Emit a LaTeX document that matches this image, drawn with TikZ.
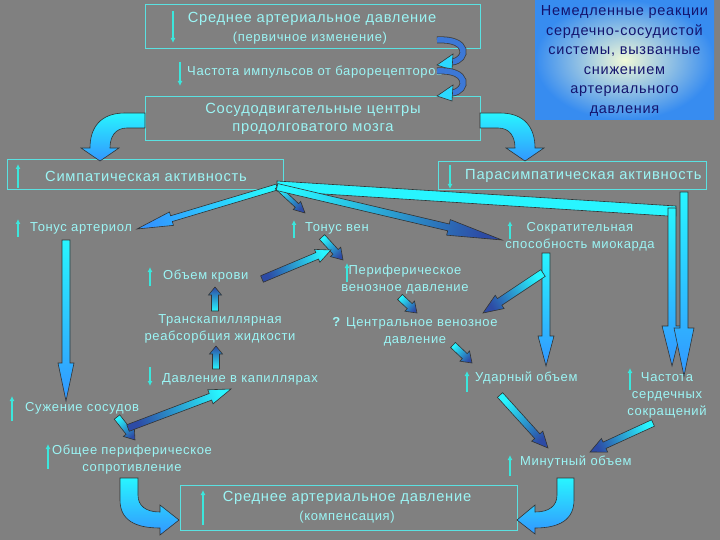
\documentclass[tikz,border=0pt]{standalone}
\usepackage{fontspec}
\setmainfont{Liberation Sans}[LetterSpace=5]
\usetikzlibrary{calc,arrows.meta}
\definecolor{bg}{RGB}{128,128,128}
\definecolor{txt}{RGB}{155,245,245}
\definecolor{brd}{RGB}{90,225,225}
\definecolor{ind}{RGB}{60,230,220}
\definecolor{cy}{RGB}{40,245,255}
\definecolor{bl}{RGB}{50,150,255}
\definecolor{db}{RGB}{45,75,165}
\definecolor{navy}{RGB}{20,20,110}
\definecolor{pale}{RGB}{240,248,215}
\definecolor{boxbl}{RGB}{55,140,240}
\definecolor{curl}{RGB}{60,120,215}

\tikzset{
  lbl/.style={text=txt, inner sep=0pt, align=center},
  t14/.style={lbl, font=\fontsize{14.7}{19}\selectfont},
  t12/.style={lbl, font=\fontsize{13}{17}\selectfont},
  frame/.style={draw=brd, line width=1pt, inner sep=0pt},
  indic/.style={draw=ind, line width=1.6pt, -{Latex[length=5pt,width=5pt]}},
  outl/.style={draw=black!80, line width=0.6pt},
}

% block arrow: tail, tip, shaft half width, head half width, head length, tail colour, head colour
\newcommand\blk[7]{%
  \pgfmathanglebetweenpoints{\pgfpointanchor{#1}{center}}{\pgfpointanchor{#2}{center}}%
  \edef\bang{\pgfmathresult}%
  \draw[outl, bottom color=#6, top color=#7, shading angle=\bang-90]
    ($(#1)+(\bang+90:#3)$) -- ($(#2)+(\bang+180:#5)+(\bang+90:#3)$)
    -- ($(#2)+(\bang+180:#5)+(\bang+90:#4)$) -- (#2)
    -- ($(#2)+(\bang+180:#5)+(\bang-90:#4)$) -- ($(#2)+(\bang+180:#5)+(\bang-90:#3)$)
    -- ($(#1)+(\bang-90:#3)$) -- cycle;
}

\begin{document}
\begin{tikzpicture}[x=1pt,y=-1pt]
\fill[bg] (0,0) rectangle (720,540);
\useasboundingbox (0,0) rectangle (720,540);

% ---------- boxes ----------
\node[frame, minimum width=335pt, minimum height=44pt] (mapA) at (312.5,27) {};
\node[frame, minimum width=335pt, minimum height=44pt] (vmc) at (312.5,119) {};
\node[frame, minimum width=276pt, minimum height=30pt] (sym) at (145,175) {};
\node[frame, minimum width=268pt, minimum height=28pt] (psym) at (572,176) {};
\node[frame, minimum width=337pt, minimum height=45pt] (mapB) at (348.5,507.5) {};

% gradient info box
\node[inner sep=0pt, minimum width=179pt, minimum height=120pt, inner color=pale, outer color=boxbl] (imm) at (624.5,60) {};
\node[inner sep=0pt, align=center, text=navy, font=\fontsize{14.5}{19.5}\selectfont] (immt) at (624.5,61)
  {Немедленные реакции\\сердечно-сосудистой\\системы, вызванные\\снижением\\артериального\\давления};

% ---------- texts ----------
\node[t14] (tA1) at (312,19) {Среднее артериальное давление};
\node[t12] (tA2) at (310,38) {(первичное изменение)};
\node[t12, anchor=west] (baro) at (187,72) {Частота импульсов от барорецепторов};
\node[t14] (vmc1) at (313,110) {Сосудодвигательные центры};
\node[t14] (vmc2) at (313,129) {продолговатого мозга};
\node[t14, anchor=west] (symt) at (45,176) {Симпатическая активность};
\node[t14, anchor=west] (psymt) at (465,176) {Парасимпатическая активность};
\node[t12, anchor=west] (ta) at (30,228) {Тонус артериол};
\node[t12, anchor=west] (tv) at (305,228) {Тонус вен};
\node[t12] (sk) at (580,236.5) {Сократительная\\способность миокарда};
\node[t12, anchor=west] (ok) at (163,276) {Объем крови};
\node[t12] (tr) at (220,328.5) {Транскапиллярная\\реабсорбция жидкости};
\node[t12] (pv) at (405,280) {Периферическое\\венозное давление};
\node[t12] (cv) at (415,331.5) {{\bfseries ?} Центральное венозное\\давление};
\node[t12, anchor=west] (dk) at (162,379) {Давление в капиллярах};
\node[t12, anchor=west] (uo) at (475,378) {Ударный объем};
\node[t12] (cs) at (667,395) {Частота\\сердечных\\сокращений};
\node[t12, anchor=west] (sz) at (25,408) {Сужение сосудов};
\node[t12] (op) at (132,460) {Общее периферическое\\сопротивление};
\node[t12, anchor=west] (mo) at (520,462) {Минутный объем};
\node[t14] (tB1) at (347,498) {Среднее артериальное давление};
\node[t12] (tB2) at (347,517) {(компенсация)};

% ---------- indicator arrows ----------
\draw[indic] (173,11) -- (173,43);
\draw[indic] (180,62) -- (180,86);
\draw[indic] (18,188) -- (18,164);
\draw[indic] (450,165) -- (450,189);
\draw[indic] (18,237) -- (18,219);
\draw[indic] (294,238) -- (294,220);
\draw[indic] (510,239) -- (510,221);
\draw[indic] (150,286) -- (150,267);
\draw[indic] (150,367) -- (150,386);
\draw[indic] (347,282) -- (347,263);
\draw[indic] (467,392) -- (467,371);
\draw[indic] (630,390) -- (630,368);
\draw[indic] (12,421) -- (12,396);
\draw[indic] (48,469) -- (48,444);
\draw[indic] (510,476) -- (510,455);
\draw[indic] (203,525) -- (203,490);

% ---------- curly arrows ----------
\draw[line width=7pt, black!75] (437,40) .. controls (470,38) and (468,60) .. (452,62);
\draw[line width=5.4pt, curl] (437,40) .. controls (470,38) and (468,60) .. (452,62);
\draw[outl, fill=cy!70!bl] (453,54) -- (452,70) -- (437,65) -- cycle;
\draw[line width=7pt, black!75] (437,71) .. controls (470,69) and (468,91) .. (452,93);
\draw[line width=5.4pt, curl] (437,71) .. controls (470,69) and (468,91) .. (452,93);
\draw[outl, fill=cy!70!bl] (453,85) -- (452,101) -- (437,96) -- cycle;

% ---------- big curved arrows ----------
\draw[outl, top color=cy, bottom color=bl]
  (145,113) -- (125,113) .. controls (100,113) and (90,128) .. (90,148) -- (81,148) -- (100,161)
  -- (119,148) -- (110,148) .. controls (110,137) and (115,128) .. (127,128) -- (145,128) -- cycle;
\draw[outl, top color=cy, bottom color=bl]
  (480,113) -- (500,113) .. controls (525,113) and (535,128) .. (535,148) -- (544,148) -- (525,161)
  -- (506,148) -- (515,148) .. controls (515,137) and (510,128) .. (498,128) -- (480,128) -- cycle;
\draw[outl, top color=cy, bottom color=bl]
  (120,478) -- (120,500) .. controls (120,520) and (135,528) .. (160,528) -- (160,535) -- (179,520)
  -- (160,505) -- (160,512) .. controls (146,512) and (138,506) .. (138,495) -- (138,478) -- cycle;
\draw[outl, top color=cy, bottom color=bl]
  (574,478) -- (574,500) .. controls (574,520) and (559,528) .. (535,528) -- (535,534) -- (517,520)
  -- (535,505) -- (535,512) .. controls (549,512) and (557,506) .. (557,495) -- (557,478) -- cycle;

% ---------- straight block arrows ----------
\coordinate (s0) at (277,187);
\coordinate (aTA) at (137,229);
\coordinate (aTV) at (305,213);
\coordinate (aSK) at (502,240);
\coordinate (hrT1) at (672,208);  \coordinate (hrH1) at (672,366);
\coordinate (hrT2) at (684,192);  \coordinate (hrH2) at (684,376);
\coordinate (taT) at (66,240);    \coordinate (taH) at (66,401);
\coordinate (skT) at (546,253);   \coordinate (skH) at (546,366);
\coordinate (sk2T) at (543,273);  \coordinate (sk2H) at (483,313);
\coordinate (tvT) at (322,237);   \coordinate (tvH) at (343,260);
\coordinate (okT) at (262,279);   \coordinate (okH) at (331,250);
\coordinate (pvT) at (400,297);   \coordinate (pvH) at (417,313);
\coordinate (cvT) at (453,345);   \coordinate (cvH) at (472,363);
\coordinate (uoT) at (500,395);   \coordinate (uoH) at (548,448);
\coordinate (csT) at (653,423);   \coordinate (csH) at (590,452);
\coordinate (szT) at (117,417);   \coordinate (szH) at (135,440);
\coordinate (opT) at (128,428);   \coordinate (opH) at (231,389);
\coordinate (trT) at (215,311);   \coordinate (trH) at (215,287);
\coordinate (dkT) at (216,369);   \coordinate (dkH) at (216,346);

% band from sympathetic activity to heart rate
\draw[outl, fill=cy] (277,181) -- (676,206) -- (676,216) -- (668,216) -- (277,191) -- cycle;
\blk{hrT1}{hrH1}{4pt}{10pt}{40pt}{cy}{bl}
\blk{hrT2}{hrH2}{4pt}{10pt}{48pt}{cy}{bl}
\blk{s0}{aTA}{3pt}{7pt}{36pt}{cy}{bl}
\blk{s0}{aTV}{2.5pt}{5.5pt}{11pt}{cy}{db}
\blk{s0}{aSK}{3.5pt}{8pt}{55pt}{cy}{db}
\blk{taT}{taH}{4pt}{8pt}{38pt}{cy}{bl}
\blk{skT}{skH}{4pt}{8pt}{30pt}{cy}{bl}
\blk{sk2T}{sk2H}{4pt}{8pt}{20pt}{cy}{db}
\blk{tvT}{tvH}{3.5pt}{7pt}{11pt}{cy}{db}
\blk{okT}{okH}{3.5pt}{7pt}{15pt}{db}{cy}
\blk{pvT}{pvH}{3.5pt}{7pt}{10pt}{cy}{db}
\blk{cvT}{cvH}{3.5pt}{7pt}{10pt}{cy}{db}
\blk{uoT}{uoH}{3.5pt}{7.5pt}{16pt}{cy}{db}
\blk{csT}{csH}{3.5pt}{7.5pt}{16pt}{cy}{db}
\blk{szT}{szH}{3.5pt}{7pt}{10pt}{cy}{db}
\blk{opT}{opH}{3.5pt}{7.5pt}{22pt}{db}{cy}
\blk{trT}{trH}{3.5pt}{6.5pt}{8pt}{cy}{db}
\blk{dkT}{dkH}{3.5pt}{6.5pt}{8pt}{cy}{db}
\end{tikzpicture}
\end{document}
